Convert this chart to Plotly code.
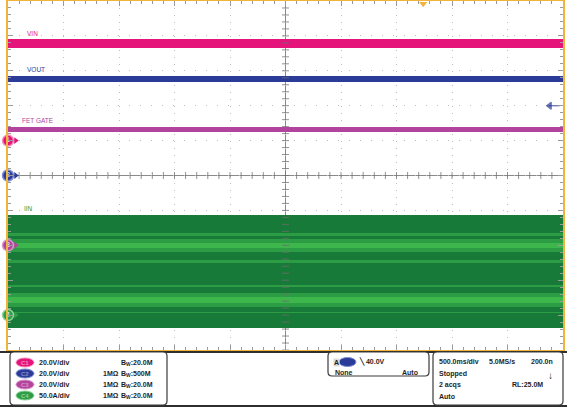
import numpy as np
import plotly.graph_objects as go

# ── Canvas / screen geometry ─────────────────────────────────────────────────
W, H = 567, 407
X_L, X_R, Y_T, Y_B = 8, 563, 1, 350          # graticule box in pixels

def px(x):
    return x / W

def py(y):
    return 1 - y / H

# ── Data ─────────────────────────────────────────────────────────────────────
TIME_PER_DIV = 0.5                             # 500.0 ms/div, 10 div
CH_NAMES     = ["VIN", "VOUT", "FET GATE", "IIN"]
CH_SCALE     = [20.0, 20.0, 20.0, 50.0]        # units per division
CH_UNIT      = ["V", "V", "V", "A"]
CH_GROUND    = [1.0, 0.0, -2.0, -4.0]          # ground marker, divisions
CH_BW        = ["20.0M", "500M", "20.0M", "20.0M"]
CH_IMP       = ["", "1MΩ", "1MΩ", "1MΩ"]

# steady DC traces: level and peak-to-peak noise band
DC_LEVEL = [55.6, 55.4, 66.4]                  # V (VIN, VOUT, FET GATE)
DC_NOISE = [5.2, 3.4, 2.8]                     # V pk-pk

# IIN envelope, stripe edges in A (top -> bottom) and persistence shade
IIN_EDGES = [143.5, 117.5, 113.5, 109.0, 103.5, 96.0, 90.5, 79.0, 74.5,
             43.0, 40.0, 31.5, 26.0, 17.5, 11.5, 4.5, 3.0, -18.5]
IIN_SHADE = ["dark", "mid", "dark", "mid", "bright", "mid", "dark", "mid",
             "dark", "mid", "dark", "mid", "bright", "mid", "dark", "mid", "dark"]

TRIG_LEVEL = 40.0                              # V on CH2, falling edge
TRIG_POS   = 1.24                              # s, orange marker on top

# ── Theme ────────────────────────────────────────────────────────────────────
CH_COLOR  = ["#E5147A", "#2B3C98", "#B2449E", "#2E9E46"]
CH_RING   = ["#F58DBB", "#7F8CD0", "#D895CC", "#8FD39A"]
GREENS    = {"dark": "#187A38", "mid": "#2C9C45", "bright": "#3DB64C"}
ORANGE    = "#F2B33A"
GRID      = "#BDBDBD"
CROSS     = "rgba(110,110,110,0.75)"
FONT      = "Liberation Sans, Arial, sans-serif"

half_t = 5 * TIME_PER_DIV

def to_div(value, ch):
    return CH_GROUND[ch] + value / CH_SCALE[ch]

fig = go.Figure()

# ── Centre cross with minor ticks ────────────────────────────────────────────
fig.add_shape(type="line", x0=-half_t, x1=half_t, y0=0, y1=0,
              line=dict(color="#8A8A8A", width=1), layer="below")
fig.add_shape(type="line", x0=0, x1=0, y0=-5, y1=5,
              line=dict(color="#8A8A8A", width=1), layer="below")
tx = np.arange(-half_t, half_t + 1e-9, TIME_PER_DIV / 5)
ty = np.arange(-5, 5 + 1e-9, 0.2)
fig.add_trace(go.Scatter(
    x=tx, y=np.zeros_like(tx), mode="markers", hoverinfo="skip",
    marker=dict(symbol="line-ns", size=5, line=dict(color=CROSS, width=1)),
))
fig.add_trace(go.Scatter(
    x=np.zeros_like(ty), y=ty, mode="markers", hoverinfo="skip",
    marker=dict(symbol="line-ew", size=5, line=dict(color=CROSS, width=1)),
))

# ── DC traces (VIN, VOUT, FET GATE) ──────────────────────────────────────────
for ch, (lvl, noise) in enumerate(zip(DC_LEVEL, DC_NOISE)):
    fig.add_trace(go.Bar(
        orientation="h",
        y=[to_div(lvl, ch)], x=[2 * half_t], base=[-half_t],
        width=[noise / CH_SCALE[ch]],
        marker=dict(color=CH_COLOR[ch], line=dict(width=0)),
        hoverinfo="skip",
    ))

# ── IIN persistence stripes ──────────────────────────────────────────────────
tops = np.array(IIN_EDGES[:-1])
bots = np.array(IIN_EDGES[1:])
fig.add_trace(go.Bar(
    orientation="h",
    y=[to_div((a + b) / 2, 3) for a, b in zip(tops, bots)],
    x=[2 * half_t] * len(tops), base=[-half_t] * len(tops),
    width=list((tops - bots) / CH_SCALE[3]),
    marker=dict(color=[GREENS[s] for s in IIN_SHADE], line=dict(width=0)),
    hoverinfo="skip",
))

# ── Ground reference markers (left edge) ─────────────────────────────────────
fig.add_trace(go.Scatter(
    x=[-half_t + 0.035] * 4, y=CH_GROUND, mode="markers", cliponaxis=False,
    marker=dict(symbol="line-ew", size=7, line=dict(color=CH_COLOR, width=1.3)),
    hoverinfo="skip",
))
fig.add_trace(go.Scatter(
    x=[-half_t + 0.07] * 4, y=CH_GROUND, mode="markers", cliponaxis=False,
    marker=dict(symbol="triangle-right", size=6, color=CH_COLOR),
    hoverinfo="skip",
))
fig.add_trace(go.Scatter(
    x=[-half_t] * 4, y=CH_GROUND, mode="markers+text", cliponaxis=False,
    text=[str(i + 1) for i in range(4)], textposition="middle center",
    textfont=dict(color="white", size=7, family=FONT),
    marker=dict(size=11, color=CH_COLOR, line=dict(color=CH_RING, width=1.5)),
    hoverinfo="skip",
))

# trigger level arrow (right edge) and trigger position (top edge)
trig_div = to_div(TRIG_LEVEL, 1)
fig.add_trace(go.Scatter(
    x=[half_t - 0.08, half_t - 0.12], y=[trig_div, trig_div], mode="markers",
    marker=dict(symbol=["line-ew", "triangle-left"], size=[8, 6],
                color=CH_COLOR[1], line=dict(color=CH_COLOR[1], width=1.3)),
    hoverinfo="skip",
))
fig.add_trace(go.Scatter(
    x=[TRIG_POS], y=[4.92], mode="markers", cliponaxis=False, hoverinfo="skip",
    marker=dict(symbol="triangle-down", size=7, color=ORANGE),
))

# ── Channel labels on screen ─────────────────────────────────────────────────
label_pos = [(25, 33), (25, 69), (20, 120), (22, 208)]
for ch, (lx, ly) in enumerate(label_pos):
    fig.add_annotation(x=px(lx), y=py(ly), xref="paper", yref="paper",
                       text=CH_NAMES[ch], showarrow=False,
                       xanchor="left", yanchor="middle",
                       font=dict(size=6.5, color=CH_COLOR[ch], family=FONT))

# ── Bottom readout panel ─────────────────────────────────────────────────────
def rounded_box(x0, y0, x1, y1, r=4):
    pts = (f"M {px(x0 + r)},{py(y0)} L {px(x1 - r)},{py(y0)} "
           f"Q {px(x1)},{py(y0)} {px(x1)},{py(y0 + r)} "
           f"L {px(x1)},{py(y1 - r)} Q {px(x1)},{py(y1)} {px(x1 - r)},{py(y1)} "
           f"L {px(x0 + r)},{py(y1)} Q {px(x0)},{py(y1)} {px(x0)},{py(y1 - r)} "
           f"L {px(x0)},{py(y0 + r)} Q {px(x0)},{py(y0)} {px(x0 + r)},{py(y0)} Z")
    fig.add_shape(type="path", path=pts, xref="paper", yref="paper",
                  line=dict(color="#3A3A3A", width=1.2), fillcolor="white")

def text(x, y, s, anchor="left", size=7, color="#1E1E1E", bold=True, **kw):
    fig.add_annotation(x=px(x), y=py(y), xref="paper", yref="paper", text=s,
                       showarrow=False, xanchor=anchor, yanchor="middle",
                       font=dict(size=size, color=color, family=FONT,
                                 weight="bold" if bold else "normal"), **kw)

def badge(x0, x1, yc, color, ring, label=""):
    fig.add_shape(type="circle", xref="paper", yref="paper",
                  x0=px(x0), x1=px(x1), y0=py(yc + 4.5), y1=py(yc - 4.5),
                  fillcolor=color, line=dict(color=ring, width=1))
    if label:
        text((x0 + x1) / 2, yc, label, anchor="center", size=6, color=ring)

fig.add_shape(type="line", xref="paper", yref="paper",
              x0=0, x1=1, y0=py(352), y1=py(352),
              line=dict(color="#2E2E2E", width=2))
fig.add_shape(type="line", xref="paper", yref="paper",
              x0=0, x1=1, y0=py(406), y1=py(406),
              line=dict(color="#2E2E2E", width=2))

rounded_box(10, 352, 167, 405)
rounded_box(328, 352, 429, 376)
rounded_box(433, 352, 563, 405)

rows = [362.5, 373.5, 384.5, 395.5]
for ch, ry in enumerate(rows):
    badge(16, 34, ry, CH_COLOR[ch], CH_RING[ch], f"C{ch + 1}")
    text(37, ry, f"{CH_SCALE[ch]:.1f}{CH_UNIT[ch]}/div")
    if CH_IMP[ch]:
        text(101, ry, CH_IMP[ch])
    text(119, ry, f"B<sub>W</sub>:{CH_BW[ch]}")

# trigger box
text(333, 362, "A", bgcolor="#DCDCDC", borderpad=0)
badge(339, 356, 362, CH_COLOR[1], CH_RING[1])
text(357, 361.5, f"╲ {TRIG_LEVEL:.1f}V")
text(333, 372, "None")
text(420, 372, "Auto", anchor="right")

# timebase box
text(437, 361, f"{TIME_PER_DIV * 1000:.1f}ms/div")
text(487, 361, "5.0MS/s")
text(555, 361, "200.0n", anchor="right")
text(437, 374, "Stopped")
text(550, 375, "↓", anchor="center", size=10)
text(437, 384.5, "2 acqs")
text(545, 384.5, "RL:25.0M", anchor="right")
text(437, 396, "Auto")

# ── Layout ───────────────────────────────────────────────────────────────────
axis_common = dict(
    showgrid=True, gridcolor=GRID, gridwidth=1,
    zeroline=False, showticklabels=False,
    showline=True, linecolor=ORANGE, linewidth=2, mirror="ticks",
    ticks="inside", ticklen=5, tickcolor="#9A9A9A", tickwidth=1,
    fixedrange=True,
)
fig.update_layout(
    width=W, height=H, autosize=False,
    margin=dict(l=0, r=0, t=0, b=0),
    paper_bgcolor="white", plot_bgcolor="white",
    showlegend=False, barmode="overlay", bargap=0,
    font=dict(family=FONT),
    xaxis=dict(**axis_common, range=[-half_t, half_t], dtick=TIME_PER_DIV,
               domain=[px(X_L), px(X_R)], griddash="1px,6px",
               minor=dict(dtick=TIME_PER_DIV / 5, ticks="inside", ticklen=3,
                          tickcolor="#9A9A9A", showgrid=False)),
    yaxis=dict(**axis_common, range=[-5, 5], dtick=1,
               domain=[py(Y_B), py(Y_T)], griddash="1px,10px",
               minor=dict(dtick=0.2, ticks="inside", ticklen=3,
                          tickcolor="#9A9A9A", showgrid=False)),
)

fig.write_html(
    "out.html",
    config={"displayModeBar": False},
    post_script="document.body.style.margin='0';document.body.style.overflow='hidden';",
)
